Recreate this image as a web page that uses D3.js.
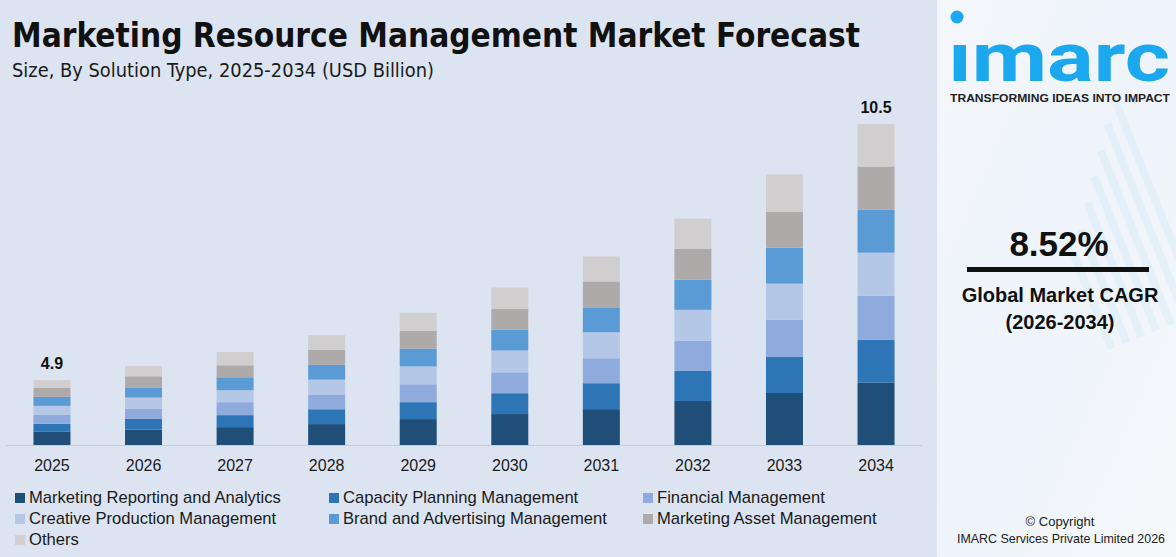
<!DOCTYPE html>
<html>
<head>
<meta charset="utf-8">
<script src="https://cdn.jsdelivr.net/npm/d3@7"></script>
<style>
  body { margin: 0; background: #dce4f1; }
  svg { display: block; }
</style>
</head>
<body>
<script>
// Chart data (USD Billion)
const years = ["2025", "2026", "2027", "2028", "2029", "2030", "2031", "2032", "2033", "2034"];
const segmentNames = [
  "Marketing Reporting and Analytics",
  "Capacity Planning Management",
  "Financial Management",
  "Creative Production Management",
  "Brand and Advertising Management",
  "Marketing Asset Management",
  "Others"
];
const reportingAnalytics = [1.00, 1.05, 1.12, 1.20, 1.35, 1.47, 1.55, 1.73, 1.86, 2.04];
const capacityPlanning   = [0.60, 0.74, 0.75, 0.85, 0.88, 0.99, 1.12, 1.18, 1.29, 1.40];
const financialMgmt      = [0.68, 0.69, 0.81, 0.85, 0.93, 0.99, 1.08, 1.18, 1.33, 1.44];
const creativeProduction = [0.68, 0.76, 0.75, 0.85, 0.93, 1.04, 1.12, 1.22, 1.29, 1.41];
const brandAdvertising   = [0.68, 0.69, 0.81, 0.85, 0.93, 0.99, 1.08, 1.18, 1.29, 1.41];
const assetMgmt          = [0.68, 0.76, 0.75, 0.85, 0.93, 0.99, 1.12, 1.22, 1.29, 1.41];
const others             = [0.58, 0.69, 0.83, 0.85, 0.93, 1.01, 1.08, 1.18, 1.33, 1.39];

// Totals printed above the first and last bar
const labelYears = ["2025", "2034"];
const labelValues = ["4.9", "10.5"];

const segmentColors = ["#1f4e79", "#2e75b6", "#8faadc", "#b4c7e7", "#5b9bd5", "#aeaaaa", "#d0cece"];

// Build rows for d3.stack
const series = [reportingAnalytics, capacityPlanning, financialMgmt, creativeProduction, brandAdvertising, assetMgmt, others];
const rows = years.map((yr, i) => {
  const row = { year: yr };
  segmentNames.forEach((name, k) => { row[name] = series[k][i]; });
  row.total = d3.sum(series, s => s[i]);
  return row;
});

const width = 1176;
const height = 557;
const baseY = 445;

const svg = d3.select("body")
  .append("svg")
  .attr("width", width)
  .attr("height", height);

// Background of chart area
svg.append("rect")
  .attr("width", width)
  .attr("height", height)
  .attr("fill", "#dce4f1");

// Scales
const xScale = d3.scaleBand()
  .domain(years)
  .range([6, 922])
  .paddingInner(0.596)
  .paddingOuter(0.3);

// bar heights in the picture grow faster than the values, so a power scale is used for the totals
const yScale = d3.scalePow()
  .exponent(2.1)
  .domain([0, 10.5])
  .range([baseY, 124]);

const colorScale = d3.scaleOrdinal()
  .domain(segmentNames)
  .range(segmentColors);

const stacked = d3.stack().keys(segmentNames)(rows);

// Each bar gets its own linear scale so segments split the bar by their share
const inner = {};
rows.forEach(r => {
  inner[r.year] = d3.scaleLinear().domain([0, r.total]).range([baseY, yScale(r.total)]);
});

// Bars
svg.append("g")
  .selectAll("g")
  .data(stacked)
  .enter()
  .append("g")
    .attr("fill", d => colorScale(d.key))
  .selectAll("rect")
  .data(d => d)
  .enter()
  .append("rect")
    .attr("x", d => xScale(d.data.year))
    .attr("width", xScale.bandwidth())
    .attr("y", d => inner[d.data.year](d[1]))
    .attr("height", d => inner[d.data.year](d[0]) - inner[d.data.year](d[1]));

// Baseline
svg.append("line")
  .attr("x1", 6)
  .attr("x2", 922)
  .attr("y1", baseY + 0.5)
  .attr("y2", baseY + 0.5)
  .attr("stroke", "#c6ced9")
  .attr("stroke-width", 1);

// X-axis year labels
const xAxis = svg.append("g")
  .attr("transform", `translate(0, ${baseY})`)
  .call(d3.axisBottom(xScale).tickSize(0).tickPadding(15));
xAxis.select(".domain").remove();
xAxis.selectAll("text")
  .style("font-family", "'Liberation Sans', Arial, sans-serif")
  .style("font-size", "16px")
  .attr("fill", "#1a1a1a");

// Total labels
labelYears.forEach((yr, i) => {
  const r = rows.find(d => d.year === yr);
  svg.append("text")
    .attr("x", xScale(yr) + xScale.bandwidth() / 2)
    .attr("y", yScale(r.total) - 11)
    .attr("text-anchor", "middle")
    .style("font-family", "'Liberation Sans', Arial, sans-serif")
    .style("font-weight", "bold")
    .style("font-size", "16px")
    .attr("fill", "#111")
    .text(labelValues[i]);
});

// Title and subtitle
svg.append("text")
  .attr("x", 12)
  .attr("y", 47)
  .attr("textLength", 848)
  .attr("lengthAdjust", "spacingAndGlyphs")
  .style("font-family", "'Liberation Sans Narrow', 'DejaVu Sans Condensed', sans-serif")
  .style("font-weight", "bold")
  .style("font-size", "34px")
  .attr("fill", "#111")
  .text("Marketing Resource Management Market Forecast");

svg.append("text")
  .attr("x", 12)
  .attr("y", 77)
  .attr("textLength", 422)
  .attr("lengthAdjust", "spacingAndGlyphs")
  .style("font-family", "'Liberation Sans Narrow', 'DejaVu Sans Condensed', sans-serif")
  .style("font-size", "19px")
  .attr("fill", "#1a1a1a")
  .text("Size, By Solution Type, 2025-2034 (USD Billion)");

// Legend, three columns
const legend = svg.append("g")
  .attr("class", "legend");

segmentNames.forEach((name, i) => {
  const col = i % 3;
  const row = Math.floor(i / 3);
  const g = legend.append("g")
    .attr("transform", `translate(${15 + col * 314}, ${493 + row * 21})`);
  g.append("rect")
    .attr("width", 10)
    .attr("height", 10)
    .attr("fill", colorScale(name));
  g.append("text")
    .attr("x", 14)
    .attr("y", 10)
    .style("font-family", "'Liberation Sans', Arial, sans-serif")
    .style("font-size", "16.6px")
    .attr("fill", "#1a1a1a")
    .text(name);
});

// Right panel
const defs = svg.append("defs");
const grad = defs.append("linearGradient")
  .attr("id", "panelGrad")
  .attr("x1", "0").attr("y1", "0")
  .attr("x2", "1").attr("y2", "1");
grad.append("stop").attr("offset", "0%").attr("stop-color", "#f4f7fb");
grad.append("stop").attr("offset", "50%").attr("stop-color", "#eef4fa");
grad.append("stop").attr("offset", "100%").attr("stop-color", "#f6f8fb");

const panel = svg.append("g");
panel.append("rect")
  .attr("x", 937)
  .attr("y", 0)
  .attr("width", width - 937)
  .attr("height", height)
  .attr("fill", "url(#panelGrad)");

// faint decorative bars in the panel background
const decoBars = [0, 1, 2, 3, 4, 5, 6];
panel.append("g")
  .attr("transform", "translate(1108, 350) rotate(-22)")
  .selectAll("rect")
  .data(decoBars)
  .enter()
  .append("rect")
    .attr("x", d => d * 16)
    .attr("y", d => -100 - d * 22)
    .attr("width", 8)
    .attr("height", d => 100 + d * 22)
    .attr("fill", "#d3e8f6")
    .attr("opacity", 0.4);

// imarc logo
panel.append("circle")
  .attr("cx", 957)
  .attr("cy", 17)
  .attr("r", 6.5)
  .attr("fill", "#1ba8ef");
panel.append("text")
  .attr("x", 948)
  .attr("y", 81)
  .attr("textLength", 222)
  .attr("lengthAdjust", "spacingAndGlyphs")
  .style("font-family", "Roboto, 'Noto Sans', sans-serif")
  .style("font-weight", "bold")
  .style("font-size", "68px")
  .attr("fill", "#1ba8ef")
  .text("\u0131marc");
panel.append("text")
  .attr("x", 950)
  .attr("y", 102)
  .attr("textLength", 220)
  .attr("lengthAdjust", "spacingAndGlyphs")
  .style("font-family", "'Liberation Sans', Arial, sans-serif")
  .style("font-weight", "bold")
  .style("font-size", "11.5px")
  .attr("fill", "#222")
  .text("TRANSFORMING IDEAS INTO IMPACT");

// CAGR block
panel.append("text")
  .attr("x", 1059)
  .attr("y", 256)
  .attr("text-anchor", "middle")
  .style("font-family", "'Liberation Sans', Arial, sans-serif")
  .style("font-weight", "bold")
  .style("font-size", "35px")
  .attr("fill", "#111")
  .text("8.52%");
panel.append("rect")
  .attr("x", 967)
  .attr("y", 267)
  .attr("width", 182)
  .attr("height", 5)
  .attr("fill", "#111");
panel.append("text")
  .attr("x", 1060)
  .attr("y", 302)
  .attr("text-anchor", "middle")
  .style("font-family", "'Liberation Sans', Arial, sans-serif")
  .style("font-weight", "bold")
  .style("font-size", "20px")
  .attr("fill", "#111")
  .text("Global Market CAGR");
panel.append("text")
  .attr("x", 1060)
  .attr("y", 329)
  .attr("text-anchor", "middle")
  .style("font-family", "'Liberation Sans', Arial, sans-serif")
  .style("font-weight", "bold")
  .style("font-size", "20px")
  .attr("fill", "#111")
  .text("(2026-2034)");

// Copyright
panel.append("text")
  .attr("x", 1060)
  .attr("y", 526)
  .attr("text-anchor", "middle")
  .style("font-family", "'Liberation Sans', Arial, sans-serif")
  .style("font-size", "13px")
  .attr("fill", "#222")
  .text("\u00a9 Copyright");
panel.append("text")
  .attr("x", 957)
  .attr("y", 543)
  .attr("textLength", 208)
  .attr("lengthAdjust", "spacingAndGlyphs")
  .style("font-family", "'Liberation Sans', Arial, sans-serif")
  .style("font-size", "13px")
  .attr("fill", "#222")
  .text("IMARC Services Private Limited 2026");
</script>
</body>
</html>
